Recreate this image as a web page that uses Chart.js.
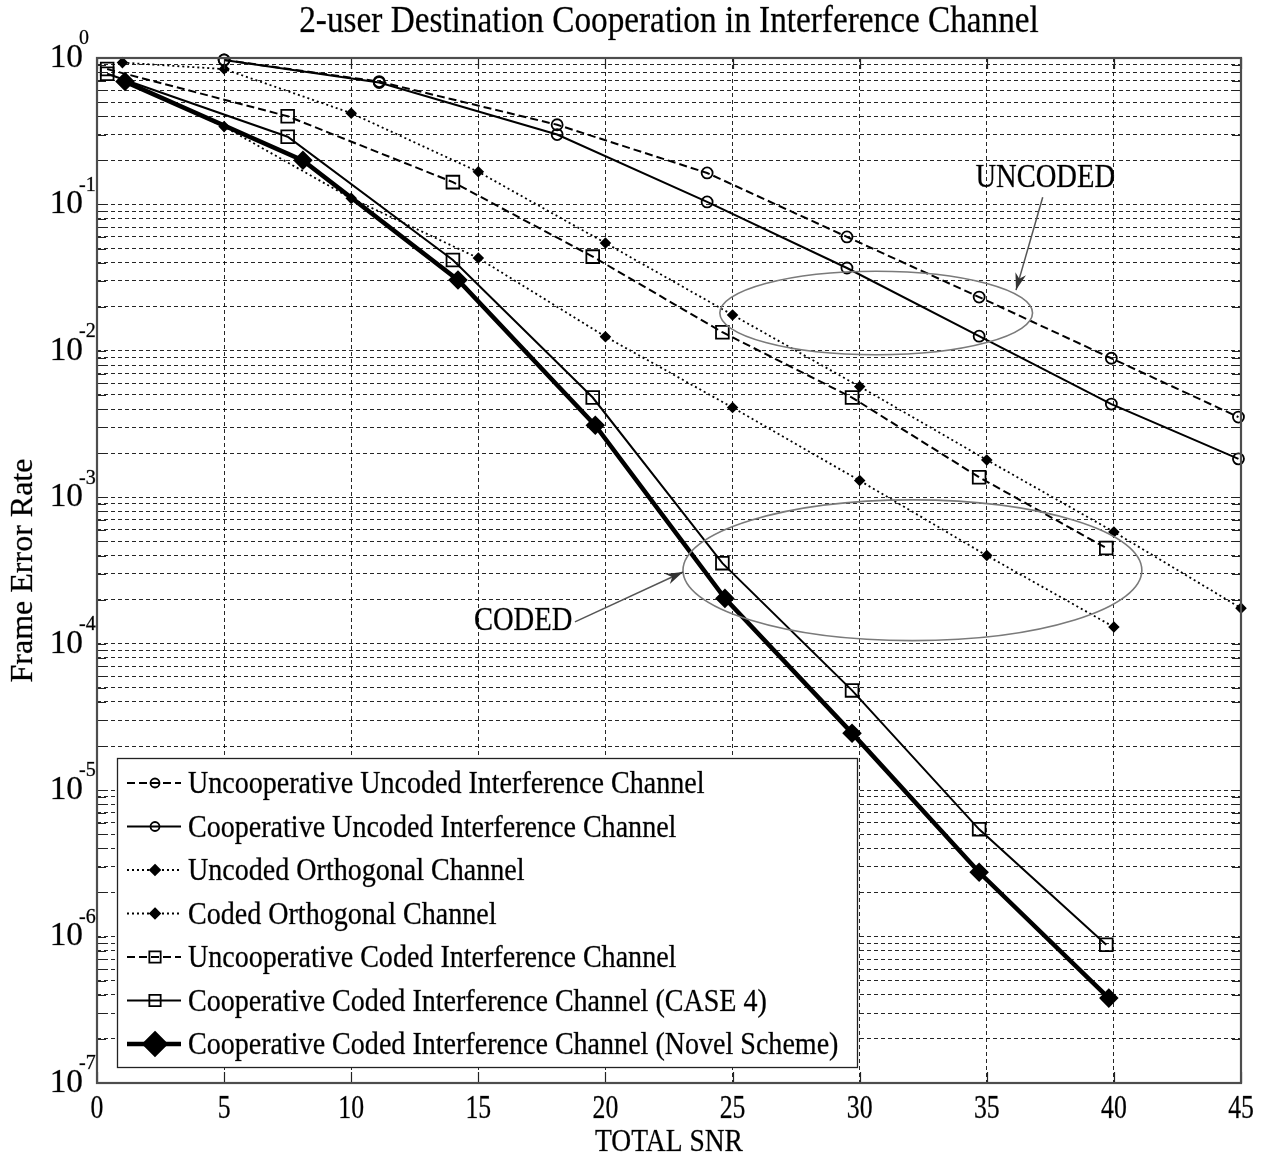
<!DOCTYPE html>
<html>
<head>
<meta charset="utf-8">
<title>2-user Destination Cooperation in Interference Channel</title>
<script src="https://cdn.jsdelivr.net/npm/chart.js@4.4.1/dist/chart.umd.min.js"></script>
<style>
  html, body { margin: 0; padding: 0; background: #ffffff; overflow: hidden; }
  canvas { display: block; }
</style>
</head>
<body>
<canvas id="fer" width="1269" height="1162" style="width:1269px;height:1162px"></canvas>
<script>
// ---- text ----
const titleText = '2-user Destination Cooperation in Interference Channel';
const xTitle = 'TOTAL SNR';
const yTitle = 'Frame Error Rate';

// ---- axes ----
const xTicks = [0, 5, 10, 15, 20, 25, 30, 35, 40, 45];
const yDecades = [-7, -6, -5, -4, -3, -2, -1, 0];

// ---- uncoded interference channel (circles) ----
const snrUncodedIC = [5, 11.1, 18.1, 24.0, 29.5, 34.7, 39.9, 44.9];
const ferUncoopUncoded = [0.97, 0.69, 0.35, 0.164, 0.060, 0.0233, 0.0089, 0.00353];
const ferCoopUncoded = [0.97, 0.68, 0.30, 0.104, 0.0368, 0.0126, 0.00433, 0.00183];

// ---- orthogonal channel ----
const snrUncodedOrth = [1, 5, 10, 15, 20, 25, 30, 35, 40, 45];
const ferUncodedOrth = [0.93, 0.84, 0.42, 0.167, 0.0545, 0.0176, 0.0057, 0.0018, 0.00058, 0.000175];
const snrCodedOrth = [1, 5, 10, 15, 20, 25, 30, 35, 40];
const ferCodedOrth = [0.70, 0.34, 0.11, 0.043, 0.0125, 0.0041, 0.0013, 0.0004, 0.00013];

// ---- coded interference channel (squares / diamonds) ----
const snrCodedIC = [0.4, 7.5, 14.0, 19.5, 24.6, 29.7, 34.7, 39.7];
const ferUncoopCoded = [0.84, 0.40, 0.142, 0.044, 0.0134, 0.0048, 0.00137, 0.00045];
const ferCoopCodedCase4 = [0.78, 0.29, 0.0417, 0.0048, 0.000355, 4.8e-5, 5.4e-6, 8.8e-7];
const snrNovel = [1.1, 8.1, 14.2, 19.6, 24.7, 29.7, 34.7, 39.8];
const ferNovel = [0.69, 0.20, 0.0305, 0.0031, 0.000204, 2.45e-5, 2.75e-6, 3.8e-7];

// ---- callouts (data coordinates) ----
const calloutUncoded = {
  label: 'UNCODED', labelAt: [37.3, 0.1515],
  ellipseX: [24.5, 36.8], ellipseY: [0.0094, 0.035],
  arrowFrom: [37.2, 0.112], arrowTo: [36.15, 0.026]
};
const calloutCoded = {
  label: 'CODED', labelAt: [16.76, 1.43e-4],
  ellipseX: [23.05, 41.1], ellipseY: [1.05e-4, 9.6e-4],
  arrowFrom: [18.8, 1.41e-4], arrowTo: [23.05, 3.09e-4]
};

const SERIF = '"Liberation Serif", "Times New Roman", Times, serif';
const INK = '#000000';

function pts(xs, ys) { return xs.map((x, i) => ({ x: x, y: ys[i] })); }

function series(label, xs, ys, opt) {
  return Object.assign({
    label: label,
    data: pts(xs, ys),
    borderColor: '#000000',
    backgroundColor: '#000000',
    borderWidth: 2,
    borderDash: [],
    pointStyle: 'circle',
    pointRadius: 5.5,
    pointBorderWidth: 1.8,
    pointBorderColor: '#000000',
    pointBackgroundColor: 'rgba(0,0,0,0)',
    pointHoverRadius: 5.5,
    tension: 0,
    fill: false,
    clip: 14
  }, opt);
}

const DASH = [8, 4];
const DOT = [2, 3];

const datasets = [
  series('Uncooperative Uncoded Interference Channel', snrUncodedIC, ferUncoopUncoded, { borderDash: DASH }),
  series('Cooperative Uncoded Interference Channel', snrUncodedIC, ferCoopUncoded, {}),
  series('Uncoded Orthogonal Channel', snrUncodedOrth, ferUncodedOrth, {
    borderDash: DOT, borderWidth: 1.8, pointStyle: 'rectRot', pointRadius: 4.5,
    pointBackgroundColor: '#000000', pointHoverRadius: 4.5 }),
  series('Coded Orthogonal Channel', snrCodedOrth, ferCodedOrth, {
    borderDash: DOT, borderWidth: 1.8, pointStyle: 'rectRot', pointRadius: 4.5,
    pointBackgroundColor: '#000000', pointHoverRadius: 4.5 }),
  series('Uncooperative Coded Interference Channel', snrCodedIC, ferUncoopCoded, {
    borderDash: DASH, pointStyle: 'rect', pointRadius: 9, pointHoverRadius: 9 }),
  series('Cooperative Coded Interference Channel (CASE 4)', snrCodedIC, ferCoopCodedCase4, {
    pointStyle: 'rect', pointRadius: 9, pointHoverRadius: 9 }),
  series('Cooperative Coded Interference Channel (Novel Scheme)', snrNovel, ferNovel, {
    borderWidth: 4.5, pointStyle: 'rectRot', pointRadius: 8.5, pointHoverRadius: 8.5,
    pointBackgroundColor: '#000000' })
];

// y tick positions: 1..9 x 10^k for every decade
const yTickValues = [];
yDecades.forEach(k => {
  if (k === 0) { yTickValues.push(1); return; }
  for (let m = 1; m <= 9; m++) yTickValues.push(+(m * Math.pow(10, k)).toPrecision(3));
});

function drawText(ctx, s, x, y, size, sx, align, baseline, rot) {
  ctx.save();
  ctx.translate(x, y);
  if (rot) ctx.rotate(rot);
  ctx.scale(sx, 1);
  ctx.font = size + 'px ' + SERIF;
  ctx.textAlign = align;
  ctx.textBaseline = baseline || 'middle';
  ctx.fillStyle = INK;
  ctx.strokeStyle = 'rgba(0,0,0,0.55)';
  ctx.lineWidth = 0.5;
  ctx.fillText(s, 0, 0);
  ctx.strokeText(s, 0, 0);
  ctx.restore();
}

function drawMarker(ctx, style, r, x, y, filled) {
  ctx.beginPath();
  if (style === 'circle') {
    ctx.arc(x, y, r, 0, Math.PI * 2);
  } else if (style === 'rect') {
    const s = r * Math.SQRT1_2;
    ctx.rect(x - s, y - s, 2 * s, 2 * s);
  } else if (style === 'rectRot') {
    ctx.moveTo(x, y - r); ctx.lineTo(x + r, y); ctx.lineTo(x, y + r); ctx.lineTo(x - r, y);
    ctx.closePath();
  }
  if (filled) { ctx.fillStyle = '#000'; ctx.fill(); }
  ctx.stroke();
}

// axes frame, inward ticks, tick labels, titles
const framePlugin = {
  id: 'frame',
  afterDraw(chart) {
    const { ctx, chartArea: a, scales } = chart;
    const xs = scales.x, ys = scales.y;
    ctx.save();
    // inward ticks
    ctx.strokeStyle = '#222';
    ctx.lineWidth = 1.2;
    ctx.setLineDash([]);
    ctx.beginPath();
    xTicks.forEach(v => {
      const px = Math.round(xs.getPixelForValue(v)) + 0.5;
      ctx.moveTo(px, a.bottom); ctx.lineTo(px, a.bottom - 11);
      ctx.moveTo(px, a.top); ctx.lineTo(px, a.top + 11);
    });
    yTickValues.forEach(v => {
      const py = Math.round(ys.getPixelForValue(v)) + 0.5;
      ctx.moveTo(a.left, py); ctx.lineTo(a.left + 9, py);
      ctx.moveTo(a.right, py); ctx.lineTo(a.right - 9, py);
    });
    ctx.stroke();
    // box
    ctx.strokeStyle = '#4d4d4d';
    ctx.lineWidth = 2.2;
    ctx.strokeRect(a.left, a.top, a.right - a.left, a.bottom - a.top);

    // y tick labels 10^k
    yDecades.forEach(k => {
      const py = ys.getPixelForValue(Math.pow(10, k));
      drawText(ctx, '10', a.left - 14, py, 34, 0.98, 'right', 'middle');
      drawText(ctx, String(k), a.left - 18, py - 19, 20, 1, 'left', 'middle');
    });
    // x tick labels
    xTicks.forEach(v => {
      drawText(ctx, String(v), xs.getPixelForValue(v), a.bottom + 26, 33, 0.78, 'center', 'middle');
    });
    const cx = (a.left + a.right) / 2;
    drawText(ctx, xTitle, cx, a.bottom + 60, 32, 0.86, 'center', 'middle');
    drawText(ctx, yTitle, 24, (a.top + a.bottom) / 2, 32, 1.0, 'center', 'middle', -Math.PI / 2);
    drawText(ctx, titleText, cx, 22, 38, 0.875, 'center', 'middle');
    ctx.restore();
  }
};

// ellipse + arrow callouts
const calloutPlugin = {
  id: 'callouts',
  afterDatasetsDraw(chart) {
    const { ctx, scales } = chart;
    const X = v => scales.x.getPixelForValue(v);
    const Y = v => scales.y.getPixelForValue(v);
    ctx.save();
    [calloutUncoded, calloutCoded].forEach(c => {
      const x0 = X(c.ellipseX[0]), x1 = X(c.ellipseX[1]);
      const y0 = Y(c.ellipseY[1]), y1 = Y(c.ellipseY[0]);
      ctx.strokeStyle = '#7a7a7a';
      ctx.lineWidth = 1.6;
      ctx.setLineDash([]);
      ctx.beginPath();
      ctx.ellipse((x0 + x1) / 2, (y0 + y1) / 2, (x1 - x0) / 2, (y1 - y0) / 2, 0, 0, Math.PI * 2);
      ctx.stroke();

      const fx = X(c.arrowFrom[0]), fy = Y(c.arrowFrom[1]);
      const tx = X(c.arrowTo[0]), ty = Y(c.arrowTo[1]);
      ctx.strokeStyle = '#555';
      ctx.lineWidth = 1.5;
      ctx.beginPath();
      ctx.moveTo(fx, fy); ctx.lineTo(tx, ty);
      ctx.stroke();
      const ang = Math.atan2(ty - fy, tx - fx);
      const L = 17, W = 5.5;
      ctx.fillStyle = '#333';
      ctx.beginPath();
      ctx.moveTo(tx, ty);
      ctx.lineTo(tx - L * Math.cos(ang) + W * Math.sin(ang), ty - L * Math.sin(ang) - W * Math.cos(ang));
      ctx.lineTo(tx - 0.7 * L * Math.cos(ang), ty - 0.7 * L * Math.sin(ang));
      ctx.lineTo(tx - L * Math.cos(ang) - W * Math.sin(ang), ty - L * Math.sin(ang) + W * Math.cos(ang));
      ctx.closePath();
      ctx.fill();

      drawText(ctx, c.label, X(c.labelAt[0]), Y(c.labelAt[1]), 34, 0.84, 'center', 'middle');
    });
    ctx.restore();
  }
};

// boxed legend in the lower-left of the plot
const legendPlugin = {
  id: 'boxLegend',
  afterDraw(chart) {
    const { ctx, chartArea: a } = chart;
    const left = a.left + 20, top = a.top + 700, width = 740, height = 309;
    const rowH = 43.5, firstRow = top + 25;
    ctx.save();
    ctx.fillStyle = '#ffffff';
    ctx.fillRect(left, top, width, height);
    ctx.strokeStyle = '#222';
    ctx.lineWidth = 1.3;
    ctx.setLineDash([]);
    ctx.strokeRect(left + 0.5, top + 0.5, width, height);
    chart.data.datasets.forEach((ds, i) => {
      const y = firstRow + i * rowH;
      const lx0 = left + 10, lx1 = left + 64, mx = left + 38;
      ctx.strokeStyle = '#000';
      ctx.lineWidth = ds.borderWidth;
      ctx.setLineDash(ds.borderDash || []);
      ctx.beginPath();
      ctx.moveTo(lx0, y); ctx.lineTo(lx1, y);
      ctx.stroke();
      ctx.setLineDash([]);
      ctx.lineWidth = ds.pointBorderWidth;
      const filled = ds.pointBackgroundColor === '#000000';
      const r = ds.borderWidth > 3 ? 12 : (ds.pointStyle === 'rect' ? 8 : (ds.pointStyle === 'rectRot' ? 5 : 4.5));
      drawMarker(ctx, ds.pointStyle, r, mx, y, filled);
      drawText(ctx, ds.label, left + 71, y + 2, 31, 0.905, 'left', 'middle');
    });
    ctx.restore();
  }
};

new Chart(document.getElementById('fer'), {
  type: 'line',
  data: { datasets: datasets },
  options: {
    responsive: false,
    animation: false,
    events: [],
    layout: { padding: { left: 97, top: 58, right: 28, bottom: 79 } },
    plugins: { legend: { display: false }, title: { display: false }, tooltip: { enabled: false } },
    scales: {
      x: {
        type: 'linear', min: 0, max: 45,
        ticks: { display: false, stepSize: 5 },
        grid: { color: 'rgba(0,0,0,0.85)', lineWidth: 1, drawTicks: false },
        border: { display: false, dash: [4, 3] }
      },
      y: {
        type: 'logarithmic', min: 1e-7, max: 1,
        afterBuildTicks(scale) {
          scale.ticks = yTickValues.map(v => ({ value: v }));
        },
        ticks: { display: false, autoSkip: false },
        grid: { color: 'rgba(0,0,0,0.85)', lineWidth: 1, drawTicks: false },
        border: { display: false, dash: [4, 3] }
      }
    }
  },
  plugins: [calloutPlugin, legendPlugin, framePlugin]
});
</script>
</body>
</html>
